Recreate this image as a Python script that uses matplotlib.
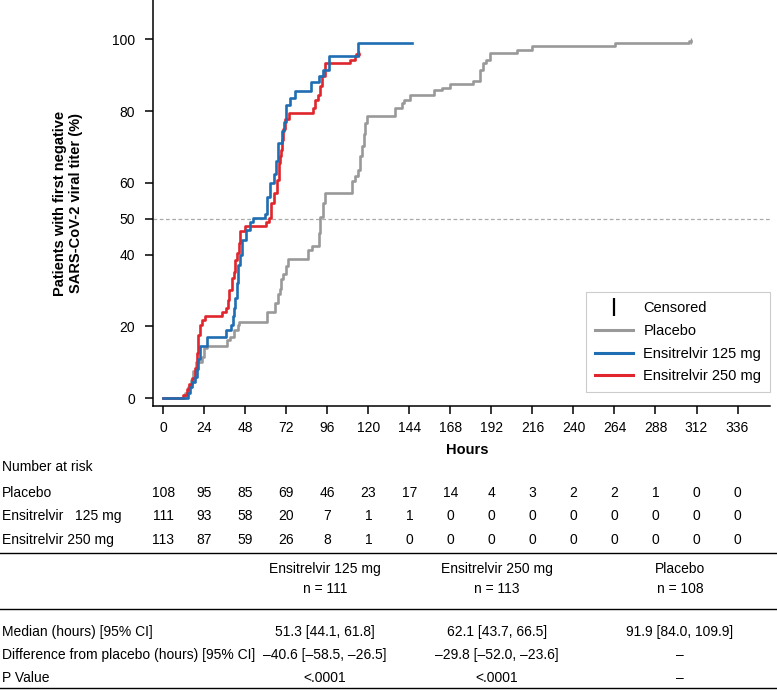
import matplotlib.pyplot as plt
from matplotlib.lines import Line2D
from matplotlib.transforms import blended_transform_factory

plt.rcParams["font.family"] = ["Liberation Sans", "DejaVu Sans"]

# Kaplan-Meier style step data (hours, % with first negative titer)
placebo_t = [0, 12.9, 14.5, 16, 17.5, 19, 22.6, 23.6, 25.5, 37.3, 39.2, 41.2, 43.5, 44.6,
             60.7, 65.6, 67.1, 68.1, 68.6, 70.2, 71.6, 73.2, 84.5, 87, 91, 91.9, 93.5,
             94.8, 110.5, 112.4, 113.8, 115, 116.3, 117.3, 118.3, 119, 135.8, 139.7,
             140.7, 144.2, 158.6, 163, 168, 181.3, 185.3, 187.2, 188.8, 191.2, 207,
             215.5, 264.3, 307.4, 308.5]
placebo_p = [0, 1.3, 3, 5, 7.5, 10, 11.6, 13.9, 14.5, 16.2, 17.1, 19, 20.4, 21.3,
             24.1, 26.5, 28.9, 30.3, 33.3, 34.5, 36.8, 38.7, 41.3, 42.5, 46, 50.6, 54.4,
             57.2, 60.4, 61.8, 63.7, 67.4, 70.2, 73.5, 76.7, 78.6, 80.8, 82.4,
             83, 84.5, 85.8, 86.5, 87.7, 88.5, 91.4, 93.4, 94.4, 96.1, 97,
             98.1, 98.9, 99.5, 99.5]

e125_t = [0, 13, 14.5, 15.5, 17, 18.5, 19.5, 20.5, 21.5, 25.4, 37, 39.4, 41, 41.4, 42,
          42.9, 43.9, 45, 46.2, 48.2, 50.7, 52.7, 59.3, 60.5, 60.9, 62.4, 64.8, 66, 67.1,
          69.7, 70.6, 72, 74.4, 77.3, 86.2, 90.9, 93.3, 96.8, 113.8, 145.5]
e125_p = [0, 0, 1.5, 3, 4.5, 6, 8, 11, 14.4, 17, 19, 20.5, 23, 25, 28,
          32, 37, 40, 44, 47, 49, 50.3, 51.4, 54, 56, 60, 62.4, 66, 71,
          74.6, 77, 81.8, 83.7, 85.6, 88.1, 89.8, 91.6, 95.3, 99.1, 99.1]

e250_t = [0, 11.7, 14, 15, 17, 18.5, 19.5, 20.5, 21.5, 22.6, 24.6, 34.4, 36.9, 37.7,
          38.2, 40.2, 41.6, 42.2, 43.1, 44.1, 44.7, 48, 60.3, 61.7, 63, 64.6, 66.6,
          67.5, 68.1, 68.9, 69.5, 70.2, 71.4, 73.4, 87.5, 89, 90.6, 91.9, 92.9, 94.8,
          109.5, 111.9, 113, 114.5]
e250_p = [0, 1, 2.5, 4, 5.5, 8.5, 12.5, 17.5, 20.4, 21.7, 22.9, 24.1, 25, 27.4,
          30.2, 33.4, 35.3, 38.5, 40.4, 43.2, 46.5, 48, 49, 50.2, 54.4, 57.2, 60.9,
          65.6, 67.4, 69.3, 72, 74.9, 77.7, 79.5, 80.9, 83.2, 84.6, 87, 89.8, 93.5,
          94.4, 95.3, 96, 96]

hours_ticks = list(range(0, 337, 24))
pct_ticks = [0, 20, 40, 50, 60, 80, 100]

risk_groups = ["Placebo", "Ensitrelvir   125 mg", "Ensitrelvir 250 mg"]
risk_placebo = [108, 95, 85, 69, 46, 23, 17, 14, 4, 3, 2, 2, 1, 0, 0]
risk_125 = [111, 93, 58, 20, 7, 1, 1, 0, 0, 0, 0, 0, 0, 0, 0]
risk_250 = [113, 87, 59, 26, 8, 1, 0, 0, 0, 0, 0, 0, 0, 0, 0]

col_heads = ["Ensitrelvir 125 mg\nn = 111", "Ensitrelvir 250 mg\nn = 113", "Placebo\nn = 108"]
row_names = ["Median (hours) [95% CI]", "Difference from placebo (hours) [95% CI]", "P Value"]
cells = [
    ["51.3 [44.1, 61.8]", "62.1 [43.7, 66.5]", "91.9 [84.0, 109.9]"],
    ["\u201340.6 [\u201358.5, \u201326.5]", "\u201329.8 [\u201352.0, \u201323.6]", "\u2013"],
    ["<.0001", "<.0001", "\u2013"],
]

c_placebo = "#999999"
c_125 = "#1f6db3"
c_250 = "#e0262c"
fs = 10

W, H = 777, 690
fig = plt.figure(figsize=(W / 100, H / 100), dpi=100)
ax = fig.add_axes([153 / W, 1 - 406 / H, 617 / W, 406 / H])

ax.axhline(50, color="#aaaaaa", lw=0.9, ls=(0, (3, 2)), zorder=1)
ax.step(placebo_t, placebo_p, where="post", color=c_placebo, lw=1.9, zorder=2)
ax.step(e125_t, e125_p, where="post", color=c_125, lw=1.9, zorder=4)
ax.step(e250_t, e250_p, where="post", color=c_250, lw=1.9, zorder=3)
# censored at end of follow-up
ax.plot(placebo_t[-1], placebo_p[-1], marker="|", color=c_placebo, ms=4, zorder=2)
ax.plot(e250_t[-1], e250_p[-1], marker="|", color=c_250, ms=4, zorder=3)

ax.set_xlim(-6, 355)
ax.set_ylim(-2.2, 111)
ax.set_xticks(hours_ticks)
ax.set_yticks(pct_ticks)
ax.tick_params(axis="both", labelsize=fs, length=5.8, width=1.1, direction="out")
ax.tick_params(axis="x", pad=5)
ax.tick_params(axis="y", pad=7)
for s in ["top", "right"]:
    ax.spines[s].set_visible(False)
for s in ["left", "bottom"]:
    ax.spines[s].set_linewidth(1.1)

ax.set_xlabel("Hours", fontsize=10.5, fontweight="bold")
ax.xaxis.set_label_coords((467 - 153) / 617, -0.09)
fig.text(68 / W, 1 - 203 / H, "Patients with first negative\nSARS-CoV-2 viral titer (%)",
         rotation=90, ha="center", va="center", fontsize=10.5, fontweight="bold",
         multialignment="center")

handles = [
    Line2D([], [], color="black", marker="|", ls="none", ms=13, mew=1.6),
    Line2D([], [], color=c_placebo, lw=2.2),
    Line2D([], [], color=c_125, lw=2.2),
    Line2D([], [], color=c_250, lw=2.2),
]
leg = ax.legend(handles, ["Censored", "Placebo", "Ensitrelvir 125 mg", "Ensitrelvir 250 mg"],
                loc="lower right", bbox_to_anchor=(1.0, 0.034), borderaxespad=0,
                fontsize=10.5, fancybox=False, edgecolor="#cccccc", framealpha=1,
                handlelength=2.6, labelspacing=0.6, borderpad=0.6, handletextpad=0.7)
leg.get_frame().set_linewidth(0.8)

# number at risk
tr = blended_transform_factory(ax.transData, fig.transFigure)
fig.text(2 / W, 1 - 467 / H, "Number at risk", fontsize=fs, va="center")
for row, (name, vals) in enumerate(zip(risk_groups, [risk_placebo, risk_125, risk_250])):
    yy = 1 - [493, 516, 540][row] / H
    fig.text(2 / W, yy, name, fontsize=fs, va="center")
    for h, v in zip(hours_ticks, vals):
        fig.text(h, yy, str(v), transform=tr, fontsize=fs, ha="center", va="center")

# summary table
for py in [553, 609, 688]:
    fig.add_artist(Line2D([0, 1], [1 - py / H, 1 - py / H], color="black", lw=1.0,
                          transform=fig.transFigure))
col_x = [325, 497, 680]
for cx, head in zip(col_x, col_heads):
    fig.text(cx / W, 1 - 579 / H, head, fontsize=fs, ha="center", va="center",
             multialignment="center", linespacing=1.6)
for py, name, row in zip([632, 655, 678], row_names, cells):
    fig.text(2 / W, 1 - py / H, name, fontsize=fs, va="center")
    for cx, val in zip(col_x, row):
        fig.text(cx / W, 1 - py / H, val, fontsize=fs, ha="center", va="center")

fig.savefig("out.png", dpi=100)
